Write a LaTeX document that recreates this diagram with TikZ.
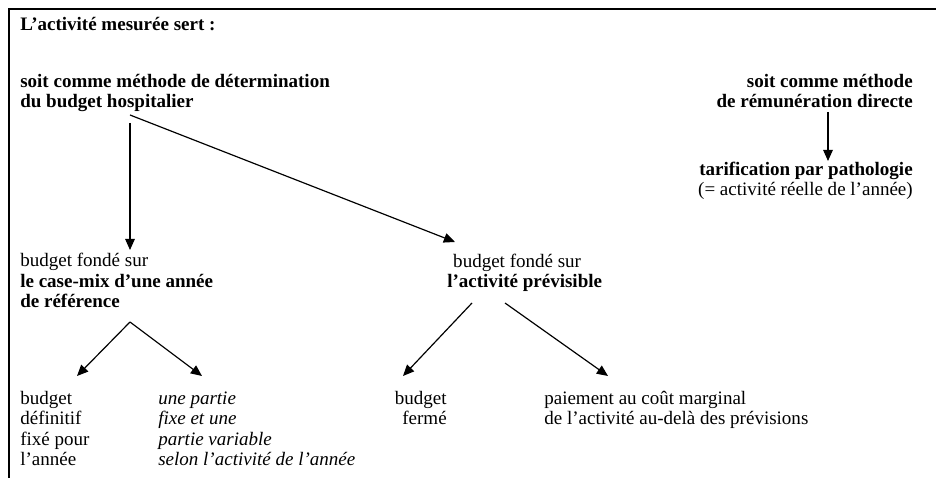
\documentclass[tikz,border=0pt]{standalone}
\usepackage{fontspec}
\setmainfont{Liberation Serif}
\usetikzlibrary{arrows.meta}

\tikzset{
  txt/.style={inner sep=0pt, align=left, anchor=base west, font=\fontsize{12.8pt}{13.8pt}\selectfont},
  txtr/.style={txt, align=right, anchor=base east},
  frame/.style={line width=1.4pt},
  link/.style={line width=0.8pt, -{Triangle[length=7.5pt,width=6.5pt]}},
}

\begin{document}
\begin{tikzpicture}[x=0.673pt, y=-0.673pt]

\useasboundingbox (0,0) rectangle (936,478);
\draw[frame] (9,478) -- (9,9) -- (936,9);

% text blocks, placed by the baseline of their last line
\node[txt] (title) at (20,31) {\textbf{L'activité mesurée sert :}};
\node[txt] (det) at (20,108) {\textbf{soit comme méthode de détermination}\\\textbf{du budget hospitalier}};
\node[txtr] (rem) at (913,108) {\textbf{soit comme méthode}\\\textbf{de rémunération directe}};
\node[txtr] (tar) at (913,196) {\textbf{tarification par pathologie}\\(= activité réelle de l'année)};

\node[txt] (case) at (20,308) {budget fondé sur\\\textbf{le case-mix d'une année}\\\textbf{de référence}};
\node[txt] (prev) at (447,288) {\hspace{4pt}budget fondé sur\\\textbf{l'activité prévisible}};

\node[txt] (def) at (20,466) {budget\\définitif\\fixé pour\\l'année};
\node[txt] (part) at (158,466) {\itshape une partie\\\itshape fixe et une\\\itshape partie variable\\\itshape selon l'activité de l'année};
\node[txtr] (ferm) at (447,425) {budget\\fermé};
\node[txt] (marg) at (544,425) {paiement au coût marginal\\de l'activité au-delà des prévisions};

% points where the arrows start and end
\coordinate (detDown) at (130,123);
\coordinate (detSide) at (130,115);
\coordinate (caseTip) at (130,250);
\coordinate (prevTip) at (455,242);
\coordinate (caseFork) at (130,322);
\coordinate (defTip) at (77,376);
\coordinate (partTip) at (202,376);
\coordinate (prevForkL) at (472,303);
\coordinate (prevForkR) at (505,303);
\coordinate (fermTip) at (403,376);
\coordinate (margTip) at (608,376);
\coordinate (remFoot) at (828,112);
\coordinate (tarTip) at (828,161);

\path [link] (detDown) edge (caseTip);
\path [link] (detSide) edge (prevTip);
\path [link] (caseFork) edge (defTip);
\path [link] (caseFork) edge (partTip);
\path [link] (prevForkL) edge (fermTip);
\path [link] (prevForkR) edge (margTip);
\path [link] (remFoot) edge (tarTip);

\end{tikzpicture}
\end{document}
